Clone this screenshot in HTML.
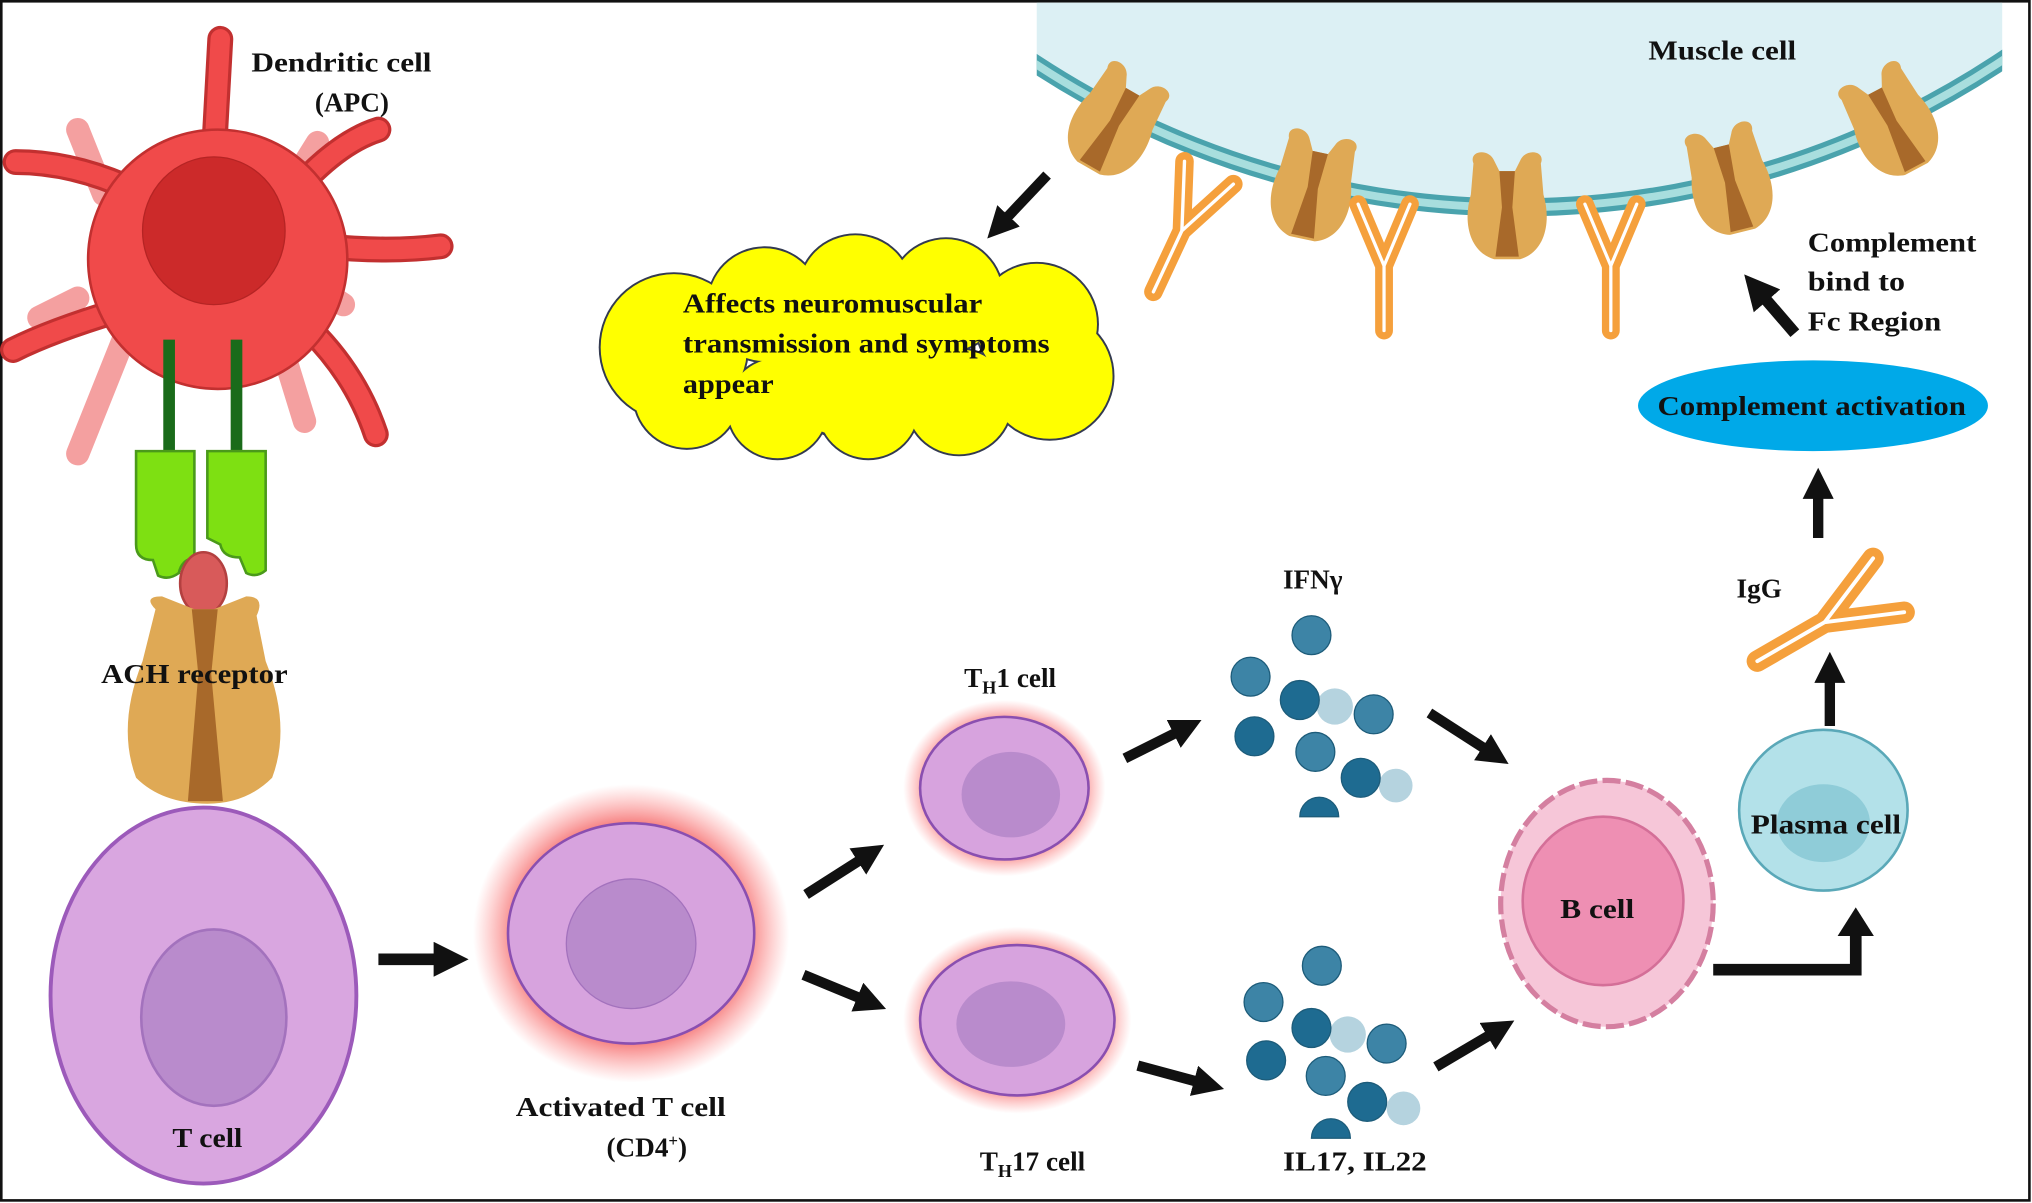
<!DOCTYPE html>
<html><head><meta charset="utf-8"><style>
html,body{margin:0;padding:0;background:#fff}
svg{display:block}
text{font-family:"Liberation Serif",serif;font-weight:bold;font-size:21px;fill:#111}
</style></head><body>
<svg width="2032" height="1203" viewBox="0 0 1568 928" preserveAspectRatio="none" xmlns="http://www.w3.org/2000/svg">
<defs>
<marker id="ah" viewBox="0 0 10 10" refX="2" refY="5" markerWidth="3" markerHeight="3" orient="auto"><path d="M0,0 L10,5 L0,10 z" fill="#111"/></marker>
<radialGradient id="glow" cx="50%" cy="50%" r="50%"><stop offset="70%" stop-color="#f25a5a" stop-opacity="0.9"/><stop offset="100%" stop-color="#ff8080" stop-opacity="0"/></radialGradient>
<clipPath id="mc"><rect x="800" y="2" width="745" height="300"/></clipPath>
<g id="rec">
<path d="M-26,-34 C-30,-44 -14,-46 -10,-36 L-6,-28 L6,-28 L10,-36 C14,-46 30,-44 26,-34 L28,-10 C34,10 30,34 10,40 L-10,40 C-30,34 -34,10 -28,-10 Z" fill="#dfa955"/>
<path d="M-6,-28 L6,-28 L4,0 L9,38 L-9,38 L-4,0 Z" fill="#a8692a"/>
</g>
<g id="ab" fill="none" stroke-linecap="round">
<path d="M0,40 L0,0 M0,0 L-16,-38 M0,0 L16,-38" stroke="#f5a03c" stroke-width="11"/>
<path d="M0,40 L0,0 M0,0 L-16,-38 M0,0 L16,-38" stroke="#fff" stroke-width="2"/>
</g>
</defs>
<rect x="1" y="1" width="1565" height="925" fill="#fff" stroke="#111" stroke-width="2"/>

<!-- muscle cell -->
<g clip-path="url(#mc)">
<circle cx="1170" cy="-517" r="677" fill="#dcf0f4"/>
<circle cx="1170" cy="-517" r="677" fill="none" stroke="#4aa3ad" stroke-width="14"/>
<circle cx="1170" cy="-517" r="677" fill="none" stroke="#a8dede" stroke-width="6"/>
</g>
<text x="1272" y="46" textLength="114" lengthAdjust="spacingAndGlyphs">Muscle cell</text>
<use href="#rec" transform="translate(860,95) rotate(30)"/>
<use href="#rec" transform="translate(1013,145) rotate(12)"/>
<use href="#rec" transform="translate(1163,160)"/>
<use href="#rec" transform="translate(1335,140) rotate(-14)"/>
<use href="#rec" transform="translate(1460,95) rotate(-28)"/>
<use href="#ab" transform="translate(912,178) rotate(25) scale(1.3)"/>
<use href="#ab" transform="translate(1068,205) scale(1.25)"/>
<use href="#ab" transform="translate(1243,205) scale(1.25)"/>

<line x1="808" y1="135" x2="775" y2="170" stroke="#111" stroke-width="8" marker-end="url(#ah)"/>

<!-- cloud -->
<g fill="#333a50">
<circle cx="520" cy="268" r="58"/><circle cx="590" cy="235" r="45"/><circle cx="660" cy="225" r="45"/><circle cx="730" cy="228" r="45"/><circle cx="800" cy="250" r="48"/><circle cx="810" cy="290" r="50"/><circle cx="740" cy="310" r="42"/><circle cx="670" cy="315" r="40"/><circle cx="600" cy="315" r="40"/><circle cx="530" cy="305" r="42"/><circle cx="660" cy="270" r="70"/>
</g>
<g fill="#ffff00">
<circle cx="520" cy="268" r="56.5"/><circle cx="590" cy="235" r="43.5"/><circle cx="660" cy="225" r="43.5"/><circle cx="730" cy="228" r="43.5"/><circle cx="800" cy="250" r="46.5"/><circle cx="810" cy="290" r="48.5"/><circle cx="740" cy="310" r="40.5"/><circle cx="670" cy="315" r="38.5"/><circle cx="600" cy="315" r="38.5"/><circle cx="530" cy="305" r="40.5"/><circle cx="660" cy="270" r="68"/>
</g>
<text x="527" y="241" textLength="231" lengthAdjust="spacingAndGlyphs">Affects neuromuscular</text>
<text x="527" y="272" textLength="283" lengthAdjust="spacingAndGlyphs">transmission and symptoms</text>
<text x="527" y="303" textLength="70" lengthAdjust="spacingAndGlyphs">appear</text>

<!-- dendritic cell -->
<g stroke="#f4a0a0" stroke-width="18" stroke-linecap="round" fill="none">
<path d="M80,150 L60,100"/><path d="M220,150 L245,110"/><path d="M100,250 L60,350"/><path d="M215,260 L235,325"/><path d="M60,230 L30,245"/><path d="M250,225 L265,235"/>
</g>
<g stroke="#c23030" stroke-width="20" stroke-linecap="round" fill="none">
<path d="M165,120 L170,30"/><path d="M110,150 Q60,125 12,125"/><path d="M225,150 Q260,110 292,100"/><path d="M250,190 Q300,195 340,190"/><path d="M90,240 Q40,255 10,270"/><path d="M240,255 Q275,290 290,335"/>
</g>
<g stroke="#f04a4a" stroke-width="15" stroke-linecap="round" fill="none">
<path d="M165,120 L170,30"/><path d="M110,150 Q60,125 12,125"/><path d="M225,150 Q260,110 292,100"/><path d="M250,190 Q300,195 340,190"/><path d="M90,240 Q40,255 10,270"/><path d="M240,255 Q275,290 290,335"/>
</g>
<ellipse cx="168" cy="200" rx="100" ry="100" fill="#f04a4a" stroke="#c23030" stroke-width="2"/>
<ellipse cx="165" cy="178" rx="55" ry="57" fill="#cc2a2a" stroke="#b52424" stroke-width="1"/>
<rect x="126" y="262" width="9" height="90" fill="#1a6b1a"/>
<rect x="178" y="262" width="9" height="90" fill="#1a6b1a"/>
<path d="M105,348 L150,348 L150,430 Q140,432 138,442 Q130,448 122,444 L118,432 Q105,432 105,420 Z" fill="#7ee012" stroke="#4a9a1a" stroke-width="2"/>
<path d="M160,348 L205,348 L205,440 Q198,446 190,442 L185,430 Q172,430 170,420 L160,415 Z" fill="#7ee012" stroke="#4a9a1a" stroke-width="2"/>
<ellipse cx="157" cy="450" rx="18" ry="24" fill="#d85a5a" stroke="#b34040" stroke-width="2"/>

<!-- ACH receptor -->
<path d="M120,470 Q110,460 125,460 L150,470 L165,470 L190,460 Q205,460 198,475 L205,510 Q225,560 210,600 Q190,620 160,620 Q125,620 105,600 Q90,560 110,510 Z" fill="#dfa955"/>
<path d="M148,470 L168,470 L163,520 L172,618 L145,618 L153,520 Z" fill="#a8692a"/>
<text x="78" y="527" textLength="144" lengthAdjust="spacingAndGlyphs">ACH receptor</text>

<!-- T cell -->
<ellipse cx="157" cy="768" rx="118" ry="145" fill="#d9a6e0" stroke="#9c5aba" stroke-width="3"/>
<ellipse cx="165" cy="785" rx="56" ry="68" fill="#b98bcc" stroke="#a372bd" stroke-width="2"/>
<text x="133" y="885" textLength="54" lengthAdjust="spacingAndGlyphs">T cell</text>

<line x1="292" y1="740" x2="340" y2="740" stroke="#111" stroke-width="9" marker-end="url(#ah)"/>

<!-- activated T cell -->
<ellipse cx="487" cy="720" rx="122" ry="115" fill="url(#glow)"/>
<ellipse cx="487" cy="720" rx="95" ry="85" fill="#d7a3de" stroke="#8a4fb0" stroke-width="2"/>
<ellipse cx="487" cy="728" rx="50" ry="50" fill="#b98bcc" stroke="#a372bd" stroke-width="1"/>
<text x="398" y="861" textLength="162" lengthAdjust="spacingAndGlyphs">Activated T cell</text>
<text x="468" y="892">(CD4<tspan font-size="13" dy="-8">+</tspan><tspan dy="8">)</tspan></text>

<line x1="622" y1="690" x2="666" y2="662" stroke="#111" stroke-width="8" marker-end="url(#ah)"/>
<line x1="620" y1="752" x2="666" y2="771" stroke="#111" stroke-width="8" marker-end="url(#ah)"/>

<!-- TH1 -->
<ellipse cx="775" cy="608" rx="78" ry="68" fill="url(#glow)"/>
<ellipse cx="775" cy="608" rx="65" ry="55" fill="#d7a3de" stroke="#8a4fb0" stroke-width="2"/>
<ellipse cx="780" cy="613" rx="38" ry="33" fill="#b98bcc"/>
<text x="744" y="530">T<tspan font-size="14" dy="5">H</tspan><tspan dy="-5">1 cell</tspan></text>
<!-- TH17 -->
<ellipse cx="785" cy="787" rx="88" ry="72" fill="url(#glow)"/>
<ellipse cx="785" cy="787" rx="75" ry="58" fill="#d7a3de" stroke="#8a4fb0" stroke-width="2"/>
<ellipse cx="780" cy="790" rx="42" ry="33" fill="#b98bcc"/>
<text x="756" y="903">T<tspan font-size="14" dy="5">H</tspan><tspan dy="-5">17 cell</tspan></text>

<line x1="868" y1="585" x2="910" y2="564" stroke="#111" stroke-width="8" marker-end="url(#ah)"/>
<line x1="878" y1="822" x2="926" y2="835" stroke="#111" stroke-width="8" marker-end="url(#ah)"/>

<!-- IFNg cluster -->
<text x="990" y="454">IFNγ</text>
<g stroke="#1d5c7a" stroke-width="1">
<circle cx="1012" cy="490" r="15" fill="#3d84a6"/>
<circle cx="965" cy="522" r="15" fill="#3d84a6"/>
<circle cx="1030" cy="545" r="14" fill="#b5d3df" stroke="none"/>
<circle cx="1003" cy="540" r="15" fill="#1e6b91"/>
<circle cx="1060" cy="551" r="15" fill="#3d84a6"/>
<circle cx="968" cy="568" r="15" fill="#1e6b91"/>
<circle cx="1015" cy="580" r="15" fill="#3d84a6"/>
<circle cx="1077" cy="606" r="13" fill="#b5d3df" stroke="none"/>
<circle cx="1050" cy="600" r="15" fill="#1e6b91"/>
<path d="M1003,630 A15,15 0 0 1 1033,630 Z" fill="#1e6b91"/>
</g>
<!-- IL cluster -->
<g stroke="#1d5c7a" stroke-width="1">
<circle cx="1020" cy="745" r="15" fill="#3d84a6"/>
<circle cx="975" cy="773" r="15" fill="#3d84a6"/>
<circle cx="1040" cy="798" r="14" fill="#b5d3df" stroke="none"/>
<circle cx="1012" cy="793" r="15" fill="#1e6b91"/>
<circle cx="1070" cy="805" r="15" fill="#3d84a6"/>
<circle cx="977" cy="818" r="15" fill="#1e6b91"/>
<circle cx="1023" cy="830" r="15" fill="#3d84a6"/>
<circle cx="1083" cy="855" r="13" fill="#b5d3df" stroke="none"/>
<circle cx="1055" cy="850" r="15" fill="#1e6b91"/>
<path d="M1012,878 A15,15 0 0 1 1042,878 Z" fill="#1e6b91"/>
</g>
<text x="990" y="903" textLength="111" lengthAdjust="spacingAndGlyphs">IL17, IL22</text>

<line x1="1103" y1="550" x2="1148" y2="579" stroke="#111" stroke-width="8" marker-end="url(#ah)"/>
<line x1="1108" y1="823" x2="1152" y2="797" stroke="#111" stroke-width="8" marker-end="url(#ah)"/>

<!-- B cell -->
<ellipse cx="1240" cy="697" rx="82" ry="95" fill="#f6c6d8" stroke="#d47fa0" stroke-width="4" stroke-dasharray="14 4"/>
<ellipse cx="1237" cy="695" rx="62" ry="65" fill="#ee8fb3" stroke="#d46f98" stroke-width="2"/>
<text x="1204" y="708" textLength="57" lengthAdjust="spacingAndGlyphs">B cell</text>

<path d="M1322,748 L1432,748 L1432,720" fill="none" stroke="#111" stroke-width="9"/>
<path d="M1418,722 L1446,722 L1432,700 Z" fill="#111"/>

<!-- Plasma cell -->
<ellipse cx="1407" cy="625" rx="65" ry="62" fill="#b3e1e9" stroke="#5aa8b8" stroke-width="2"/>
<ellipse cx="1407" cy="635" rx="36" ry="30" fill="#8fccd8"/>
<text x="1351" y="643" textLength="116" lengthAdjust="spacingAndGlyphs">Plasma cell</text>

<line x1="1412" y1="560" x2="1412" y2="522" stroke="#111" stroke-width="8" marker-end="url(#ah)"/>
<use href="#ab" transform="translate(1408,480) rotate(60) scale(1.5)"/>
<text x="1340" y="461">IgG</text>
<line x1="1403" y1="415" x2="1403" y2="380" stroke="#111" stroke-width="8" marker-end="url(#ah)"/>

<ellipse cx="1399" cy="313" rx="135" ry="35" fill="#00a9e8"/>
<text x="1279" y="320" textLength="238" lengthAdjust="spacingAndGlyphs">Complement activation</text>

<line x1="1385" y1="257" x2="1360" y2="228" stroke="#111" stroke-width="9" marker-end="url(#ah)"/>
<text x="1395" y="194" textLength="130" lengthAdjust="spacingAndGlyphs">Complement</text>
<text x="1395" y="224" textLength="75" lengthAdjust="spacingAndGlyphs">bind to</text>
<text x="1395" y="255" textLength="103" lengthAdjust="spacingAndGlyphs">Fc Region</text>

<text x="194" y="55" textLength="139" lengthAdjust="spacingAndGlyphs">Dendritic cell</text>
<text x="243" y="86">(APC)</text>
</svg>
</body></html>
